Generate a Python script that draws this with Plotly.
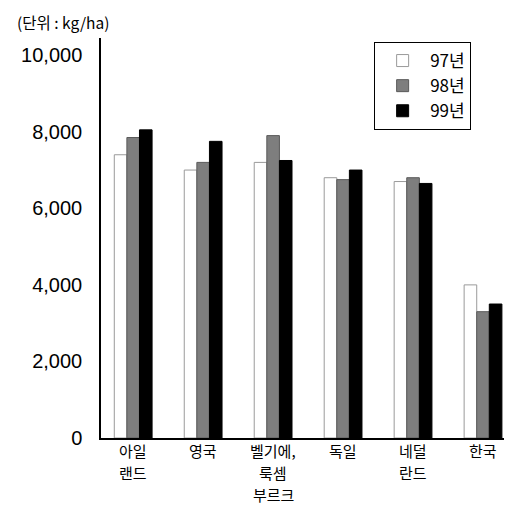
import plotly.graph_objects as go

categories = ["아일랜드", "영국", "벨기에,룩셈부르크", "독일", "네덜란드", "한국"]
category_label_lines = [["아일", "랜드"], ["영국"], ["벨기에,", "룩셈", "부르크"], ["독일"], ["네덜", "란드"], ["한국"]]
series_names = ["97년", "98년", "99년"]
y97 = [7400, 7000, 7200, 6800, 6700, 4000]
y98 = [7850, 7200, 7900, 6750, 6800, 3300]
y99 = [8050, 7750, 7250, 7000, 6650, 3500]
y_ticks = [0, 2000, 4000, 6000, 8000, 10000]
y_tick_text = ["0", "2,000", "4,000", "6,000", "8,000", "10,000"]

fill_colors = ["#ffffff", "#7e7e7e", "#000000"]
line_colors = ["#9a9a9a", "#5a5a5a", "#000000"]

FONT = "Noto Sans CJK KR, Liberation Sans, Arial, sans-serif"

fig = go.Figure()
for name, vals, fc, lc in zip(series_names, [y97, y98, y99], fill_colors, line_colors):
    fig.add_trace(go.Bar(
        x=categories, y=vals, name=name,
        marker=dict(color=fc, line=dict(color=lc, width=1)),
    ))

annotations = [dict(
    text="(단위 : kg/ha)", xref="paper", yref="paper",
    x=-0.203, y=1.0, xanchor="left", yanchor="bottom",
    yshift=4, borderpad=0, showarrow=False, font=dict(size=15.5, family=FONT),
)]
for cat, lines in zip(categories, category_label_lines):
    for i, line in enumerate(lines):
        annotations.append(dict(
            text=line, xref="x", yref="paper", x=cat, y=0,
            xanchor="center", yanchor="top", yshift=-1 - 22 * i,
            borderpad=0, showarrow=False, font=dict(size=15, family=FONT),
        ))

fig.update_layout(
    width=512, height=505,
    margin=dict(l=93, r=2, t=30, b=75),
    paper_bgcolor="white", plot_bgcolor="white",
    barmode="group", bargap=0.46, bargroupgap=0,
    font=dict(family=FONT, color="black", size=15),
    showlegend=True,
    legend=dict(
        x=0.655, y=0.99, xanchor="left", yanchor="top",
        bordercolor="black", borderwidth=1, bgcolor="white",
        font=dict(size=17, family=FONT),
        itemwidth=45, tracegroupgap=2,
    ),
    xaxis=dict(
        showline=True, linecolor="black", linewidth=1.5,
        ticks="", showticklabels=False,
        range=[-0.46, 5.5], showgrid=False,
    ),
    yaxis=dict(
        range=[0, 10450], tickvals=y_ticks, ticktext=y_tick_text,
        showline=True, linecolor="black", linewidth=1.5,
        ticks="", showgrid=False, zeroline=False, ticklabelstandoff=13,
        tickfont=dict(size=20, family="Liberation Sans, Arial, sans-serif"),
    ),
    annotations=annotations,
)

fig.write_html("out.html")
